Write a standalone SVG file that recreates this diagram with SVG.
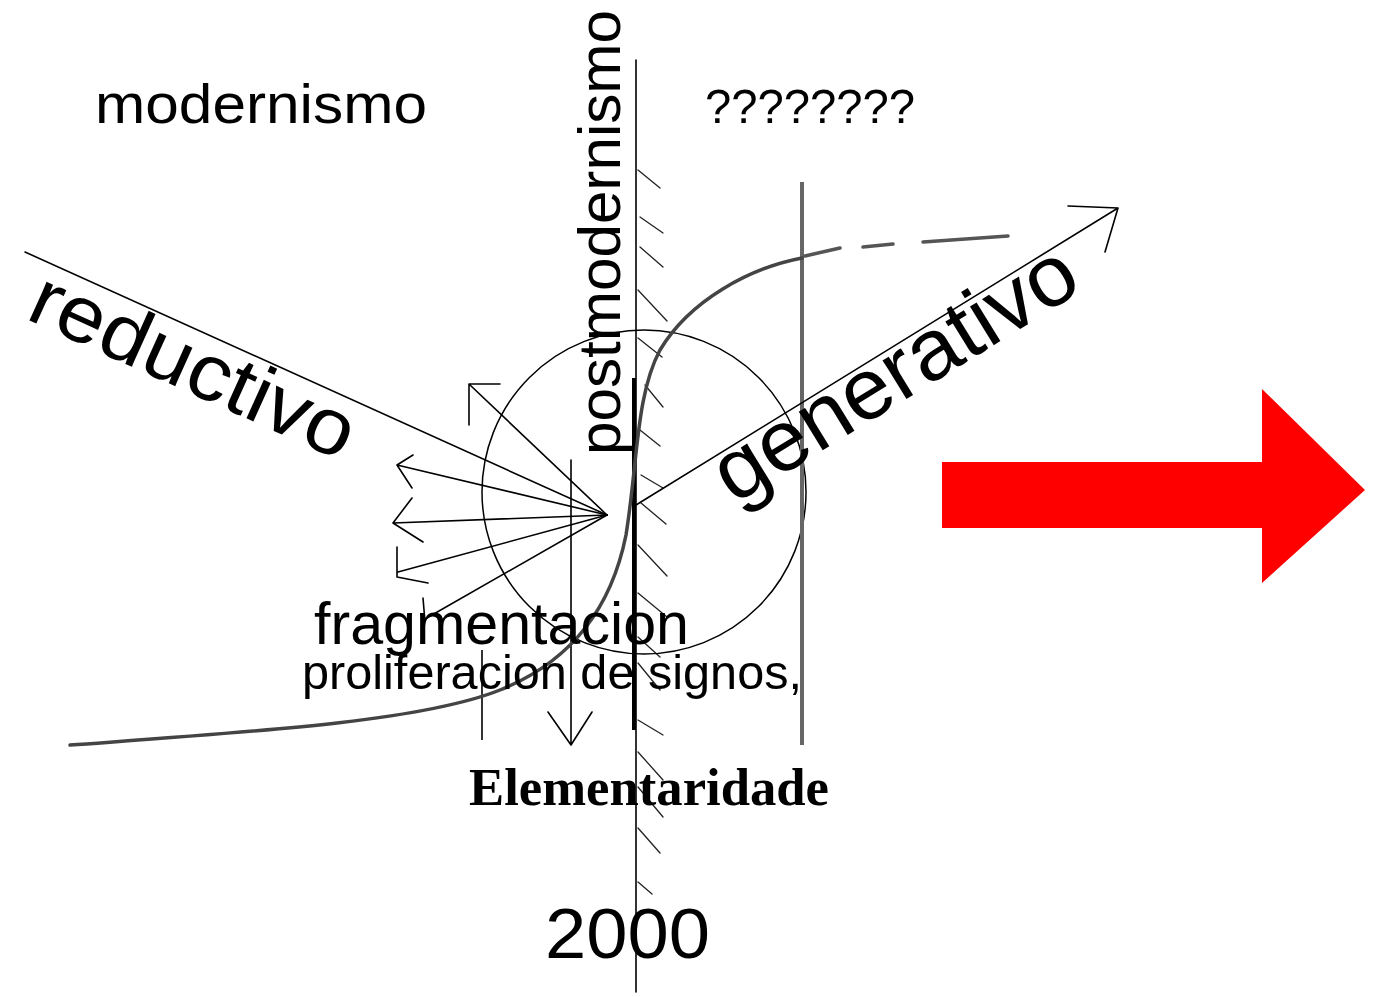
<svg xmlns="http://www.w3.org/2000/svg" width="1376" height="997" viewBox="0 0 1376 997">
<style>
.ln{fill:none;stroke:#000;stroke-width:1.6;stroke-linecap:round;stroke-linejoin:round}
.hatch{fill:none;stroke:#222;stroke-width:1.3;stroke-linecap:round}
.sans{font-family:"Liberation Sans",Arial,sans-serif;fill:#000}
.serif{font-family:"Liberation Serif","Times New Roman",serif;fill:#000;font-weight:bold}
</style>
<rect width="1376" height="997" fill="#fff"/>
<g id="connectors">
  <line class="ln" x1="636" y1="60" x2="636" y2="992"/>
  <line x1="634" y1="378" x2="634" y2="730" stroke="#000" stroke-width="4"/>
  <path class="hatch" d="M638,170 L660,188 M640,217 L663,233 M640,247 L663,267 M638,290 L667,321 M638,338 L662,357 M645,385 L663,407 M640,430 L660,446 M641,475 L663,488 M641,503 L666,524 M638,545 L667,576 M638,593 L667,617 M638,637 L660,657 M638,663 L660,690 M638,720 L663,735 M638,752 L663,780 M638,787 L663,817 M638,828 L660,853 M638,882 L652,894"/>
  <circle cx="644" cy="492" r="162" fill="none" stroke="#000" stroke-width="1.5"/>
  <line x1="802" y1="182" x2="802" y2="745" stroke="#666" stroke-width="4"/>
  <line x1="482" y1="650" x2="482" y2="740" stroke="#333" stroke-width="2"/>
  <path class="ln" d="M571,460 L571,745 M548,712 L571,745 L592,712"/>
  <path class="ln" d="M25,252 L607,515"/>
  <path class="ln" d="M607,515 L470,385 M500,384 L469,384 L469,425"/>
  <path class="ln" d="M607,515 L397,465 M413,455 L397,465 L412,488"/>
  <path class="ln" d="M607,515 L393,523 M412,498 L393,523 L423,542"/>
  <path class="ln" d="M607,515 L398,572 M397,547 L397,577 L428,583"/>
  <path class="ln" d="M607,515 L425,619 M423,598 L425,622"/>
  <path class="ln" d="M636,505 L1118,208 M1068,206 L1118,208 L1105,252"/>
  <path d="M70,745 C250,732 420,722 500,690 C575,660 612,605 626,535 C638,460 636,395 660,350 C690,300 750,268 802,258" fill="none" stroke="#444" stroke-width="3.5" stroke-linecap="round"/>
  <path d="M805,256 L840,248 M863,247 L893,244 M923,242 L1008,236" fill="none" stroke="#555" stroke-width="3.5" stroke-linecap="round"/>
</g>
<g id="arrow-red">
  <polygon points="942,462 1262,462 1262,389 1365,490 1262,583 1262,528 942,528" fill="#ff0000"/>
</g>
<g id="node-modernismo"><text class="sans" x="95" y="123" font-size="56" textLength="332" lengthAdjust="spacingAndGlyphs">modernismo</text></g>
<g id="node-question"><text class="sans" x="705" y="123" font-size="49" textLength="210" lengthAdjust="spacingAndGlyphs">????????</text></g>
<g id="node-postmodernismo"><text class="sans" transform="translate(620,455) rotate(-90)" font-size="60" textLength="445" lengthAdjust="spacingAndGlyphs">postmodernismo</text></g>
<g id="node-reductivo"><text class="sans" transform="translate(24,318) rotate(24.3)" font-size="80" textLength="348" lengthAdjust="spacingAndGlyphs">reductivo</text></g>
<g id="node-generativo"><text class="sans" transform="translate(734,505) rotate(-31.6)" font-size="86" textLength="412" lengthAdjust="spacingAndGlyphs">generativo</text></g>
<g id="node-fragmentacion"><text class="sans" x="314" y="644" font-size="59" textLength="375" lengthAdjust="spacingAndGlyphs">fragmentacion</text></g>
<g id="node-proliferacion"><text class="sans" x="302" y="689" font-size="48" textLength="500" lengthAdjust="spacingAndGlyphs">proliferacion de signos,</text></g>
<g id="node-elementaridade"><text class="serif" x="469" y="805" font-size="53" textLength="360" lengthAdjust="spacingAndGlyphs">Elementaridade</text></g>
<g id="node-2000"><text class="sans" x="545" y="958" font-size="70" textLength="165" lengthAdjust="spacingAndGlyphs">2000</text></g>
</svg>
